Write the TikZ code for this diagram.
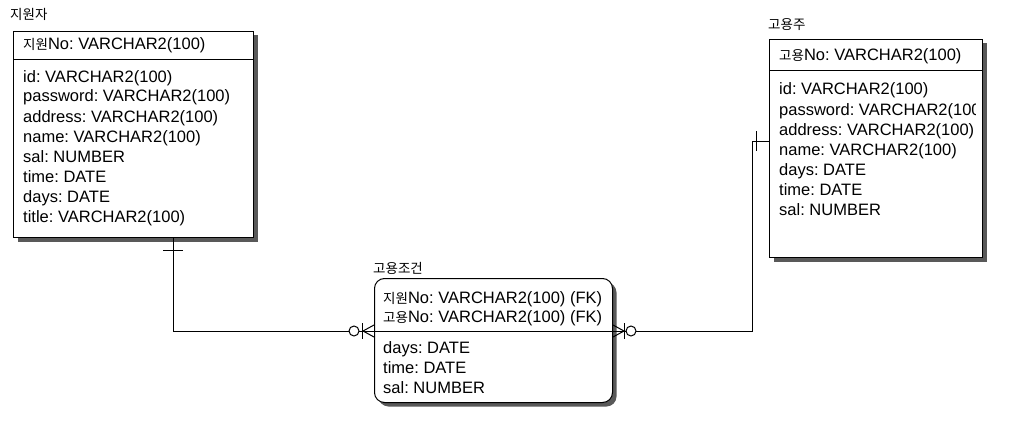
\documentclass[tikz,border=0pt]{standalone}
\usepackage{fontspec}
\setmainfont{Liberation Sans}
\newfontfamily\krfont{Noto Sans CJK KR}
\newcommand\kor[1]{{\krfont\fontsize{13.5}{15}\selectfont #1}}
\usetikzlibrary{shadows}
\frenchspacing
\begin{document}
\begin{tikzpicture}[x=1pt,y=-1pt,
 ent/.style={draw=black, line width=1pt, fill=white, anchor=north west, inner sep=0pt,
   drop shadow={shadow xshift=4pt, shadow yshift=-4pt, fill=black!65, opacity=1}},
 attr/.style={anchor=base west, inner sep=0pt, font=\fontsize{16.5}{18}\selectfont},
 ttl/.style={anchor=base west, inner sep=0pt, font=\krfont\fontsize{13.5}{15}\selectfont},
 conn/.style={line width=1pt}]
\useasboundingbox (0,0) rectangle (1015,428);
\fill[white] (0,0) rectangle (1015,428);

% ---------- 지원자 ----------
\node[ttl] (t-emp) at (10,20) {지원자};
\node[ent, minimum width=240pt, minimum height=206pt] (emp) at (13,31) {};
\draw[line width=1pt] ([yshift=-29pt]emp.north west) -- ([yshift=-29pt]emp.north east);
\node[attr] (emp-h) at (23,50) {\kor{지원}No: VARCHAR2(100)};
\node[attr] (emp-1) at (23,82) {id: VARCHAR2(100)};
\node[attr] (emp-2) at (23,102) {password: VARCHAR2(100)};
\node[attr] (emp-3) at (23,122) {address: VARCHAR2(100)};
\node[attr] (emp-4) at (23,142) {name: VARCHAR2(100)};
\node[attr] (emp-5) at (23,162) {sal: NUMBER};
\node[attr] (emp-6) at (23,182) {time: DATE};
\node[attr] (emp-7) at (23,202) {days: DATE};
\node[attr] (emp-8) at (23,222) {title: VARCHAR2(100)};

% ---------- 고용주 ----------
\node[ttl] (t-boss) at (768,30) {고용주};
\node[ent, minimum width=213pt, minimum height=218pt] (boss) at (769,39) {};
\draw[line width=1pt] ([yshift=-32pt]boss.north west) -- ([yshift=-32pt]boss.north east);
\begin{scope}
\clip (boss.north west) rectangle ([xshift=-8pt]boss.south east);
\node[attr] (boss-h) at (779,61) {\kor{고용}No: VARCHAR2(100)};
\node[attr] (boss-1) at (779,95) {id: VARCHAR2(100)};
\node[attr] (boss-2) at (779,115) {password: VARCHAR2(100)};
\node[attr] (boss-3) at (779,135) {address: VARCHAR2(100)};
\node[attr] (boss-4) at (779,155) {name: VARCHAR2(100)};
\node[attr] (boss-5) at (779,175) {days: DATE};
\node[attr] (boss-6) at (779,195) {time: DATE};
\node[attr] (boss-7) at (779,215) {sal: NUMBER};
\end{scope}

% ---------- 고용조건 ----------
\node[ttl] (t-cond) at (373,273) {고용조건};
\node[ent, rounded corners=10pt, minimum width=238pt, minimum height=124pt] (cond) at (374,278) {};
\draw[line width=1pt] ([yshift=-53pt]cond.north west) -- ([yshift=-53pt]cond.north east);
\node[attr] (cond-1) at (383,303) {\kor{지원}No: VARCHAR2(100) (FK)};
\node[attr] (cond-2) at (383,322) {\kor{고용}No: VARCHAR2(100) (FK)};
\node[attr] (cond-3) at (383,353) {days: DATE};
\node[attr] (cond-4) at (383,373) {time: DATE};
\node[attr] (cond-5) at (383,393) {sal: NUMBER};

% ---------- connectors ----------
\coordinate (c1) at ([xshift=160pt]emp.south west);
\coordinate (cl) at ([yshift=-53pt]cond.north west);
\coordinate (cr) at ([yshift=-53pt]cond.north east);
\coordinate (ce) at ([yshift=-102pt]boss.north west);
\coordinate (cb) at ([xshift=-17pt]ce);

% 지원자 -> 고용조건
\draw[conn] (c1) |- (cl);
\draw[conn] ([xshift=-10pt,yshift=-12pt]c1) -- ([xshift=10pt,yshift=-12pt]c1);
\draw[conn] ([yshift=6pt]cl) -- ([xshift=-11pt]cl) -- ([yshift=-6pt]cl);
\draw[conn] ([xshift=-12pt,yshift=8pt]cl) -- ([xshift=-12pt,yshift=-8pt]cl);
\draw[conn, fill=white] ([xshift=-20pt]cl) circle (5pt);

% 고용주 -> 고용조건
\draw[conn] (cr) -| (cb) -- (ce);
\draw[conn] ([xshift=-13pt,yshift=10pt]ce) -- ([xshift=-13pt,yshift=-10pt]ce);
\draw[conn] ([yshift=6pt]cr) -- ([xshift=11pt]cr) -- ([yshift=-6pt]cr);
\draw[conn] ([xshift=11pt,yshift=8pt]cr) -- ([xshift=11pt,yshift=-8pt]cr);
\draw[conn, fill=white] ([xshift=18pt]cr) circle (5pt);
\end{tikzpicture}
\end{document}
